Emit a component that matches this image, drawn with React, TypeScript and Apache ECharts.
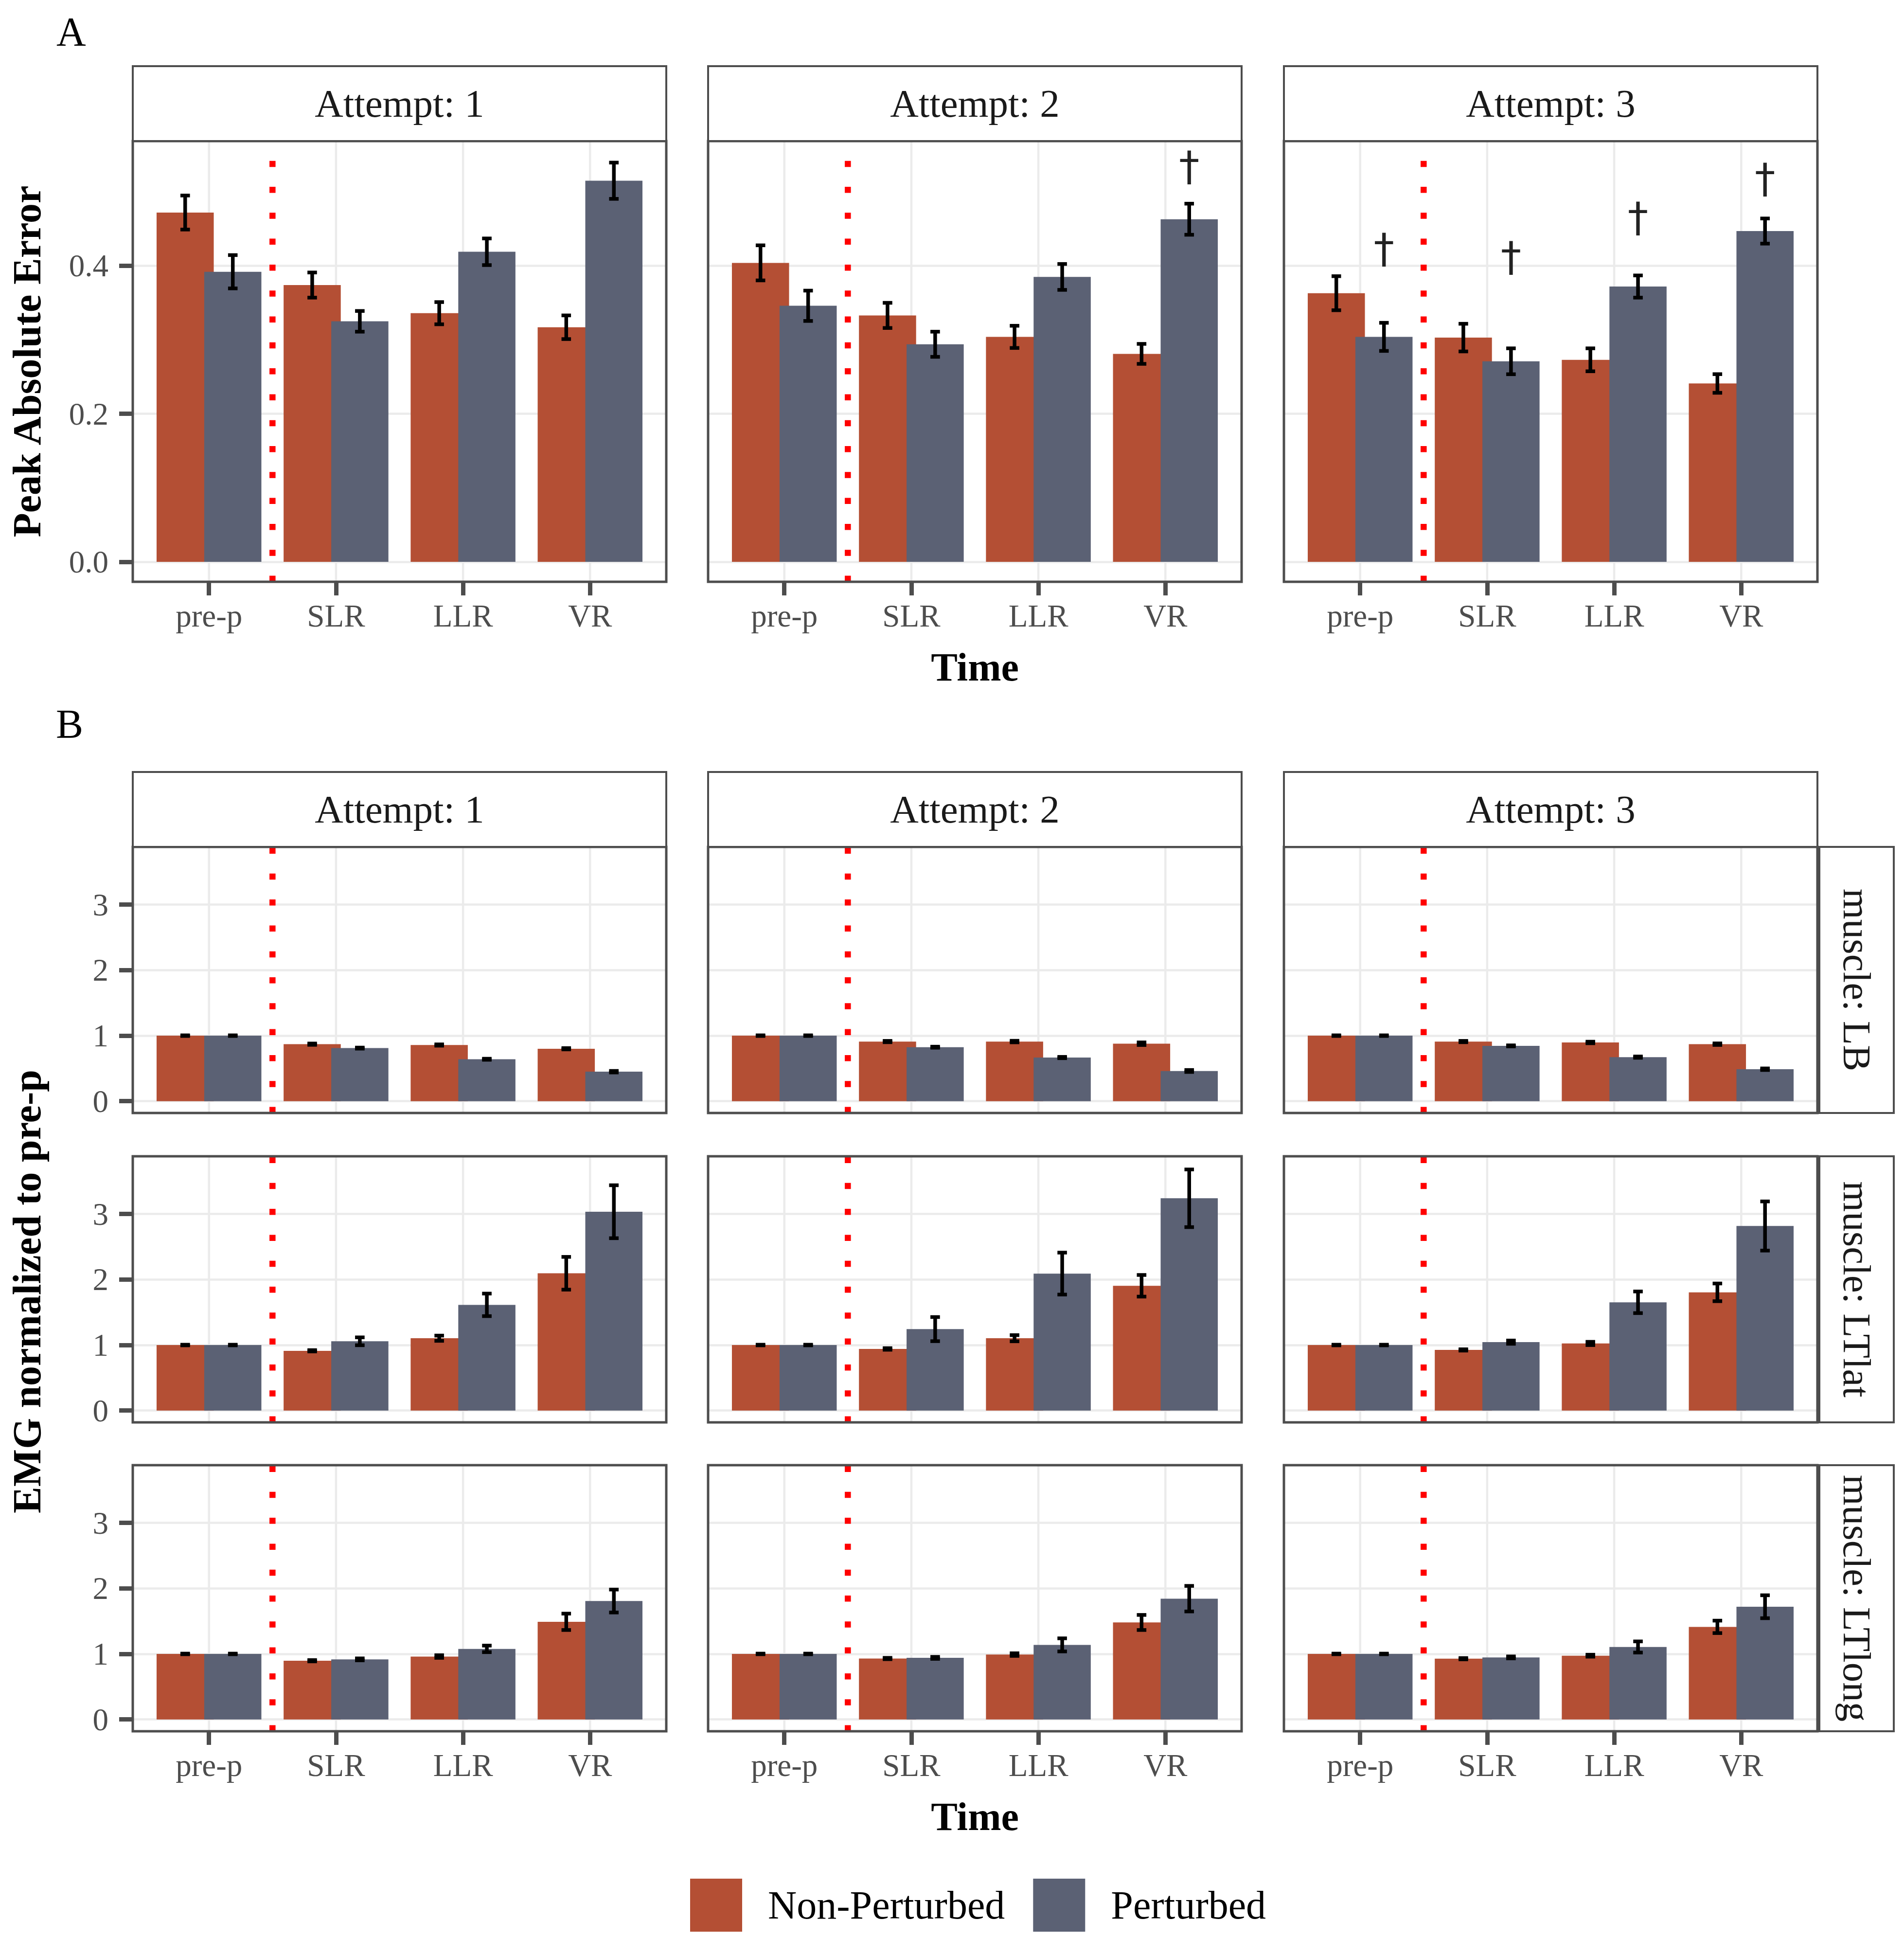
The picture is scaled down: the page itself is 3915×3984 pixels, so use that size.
import React, { useEffect, useRef } from 'react';
import * as echarts from 'echarts';

// ---------------- data ----------------
const CATEGORIES = ['pre-p', 'SLR', 'LLR', 'VR'];
const ATTEMPTS = ['Attempt: 1', 'Attempt: 2', 'Attempt: 3'];
const MUSCLES = ['muscle: LB', 'muscle: LTlat', 'muscle: LTlong'];
const GROUPS = ['Non-Perturbed', 'Perturbed'];

const PAE_TICKS = [0, 0.2, 0.4];
const EMG_TICKS = [0, 1, 2, 3];

// Panel A: Peak Absolute Error  [attempt][time]
const PAE_NP_MEAN = [
  [0.472, 0.374, 0.336, 0.317],
  [0.404, 0.333, 0.304, 0.281],
  [0.363, 0.303, 0.273, 0.241],
];
const PAE_NP_SE = [
  [0.023, 0.017, 0.015, 0.016],
  [0.0237, 0.017, 0.015, 0.0135],
  [0.023, 0.0187, 0.0155, 0.0126],
];
const PAE_P_MEAN = [
  [0.392, 0.325, 0.419, 0.515],
  [0.346, 0.294, 0.385, 0.463],
  [0.304, 0.271, 0.372, 0.447],
];
const PAE_P_SE = [
  [0.0225, 0.014, 0.018, 0.0245],
  [0.0205, 0.017, 0.0175, 0.021],
  [0.019, 0.0175, 0.015, 0.017],
];
// y position of the significance daggers (null = none)
const PAE_DAGGER_Y = [
  [null, null, null, null],
  [null, null, null, 0.529],
  [0.418, 0.407, 0.46, 0.513],
];

// Panel B: EMG normalized to pre-p  [attempt][time]
const LB_NP_MEAN = [
  [1.0, 0.87, 0.857, 0.8],
  [1.0, 0.91, 0.91, 0.877],
  [1.0, 0.91, 0.896, 0.87],
];
const LB_NP_SE = [
  [0.005, 0.01, 0.01, 0.01],
  [0.005, 0.01, 0.012, 0.02],
  [0.005, 0.01, 0.012, 0.012],
];
const LB_P_MEAN = [
  [1.0, 0.81, 0.64, 0.45],
  [1.0, 0.824, 0.666, 0.461],
  [1.0, 0.844, 0.672, 0.488],
];
const LB_P_SE = [
  [0.005, 0.008, 0.008, 0.012],
  [0.005, 0.008, 0.01, 0.015],
  [0.005, 0.008, 0.01, 0.012],
];

const LTLAT_NP_MEAN = [
  [1.0, 0.912, 1.104, 2.095],
  [1.0, 0.94, 1.104, 1.904],
  [1.0, 0.925, 1.024, 1.804],
];
const LTLAT_NP_SE = [
  [0.005, 0.01, 0.04, 0.25],
  [0.005, 0.012, 0.047, 0.165],
  [0.005, 0.01, 0.025, 0.135],
];
const LTLAT_P_MEAN = [
  [1.0, 1.057, 1.613, 3.034],
  [1.0, 1.243, 2.09, 3.239],
  [1.0, 1.044, 1.652, 2.816],
];
const LTLAT_P_SE = [
  [0.005, 0.06, 0.172, 0.404],
  [0.005, 0.184, 0.32, 0.44],
  [0.005, 0.025, 0.165, 0.375],
];

const LTLONG_NP_MEAN = [
  [1.0, 0.896, 0.96, 1.49],
  [1.0, 0.93, 0.99, 1.48],
  [1.0, 0.927, 0.973, 1.413],
];
const LTLONG_NP_SE = [
  [0.005, 0.01, 0.02, 0.125],
  [0.005, 0.01, 0.02, 0.115],
  [0.005, 0.01, 0.015, 0.095],
];
const LTLONG_P_MEAN = [
  [1.0, 0.917, 1.077, 1.807],
  [1.0, 0.94, 1.138, 1.843],
  [1.0, 0.947, 1.106, 1.72],
];
const LTLONG_P_SE = [
  [0.005, 0.015, 0.05, 0.175],
  [0.005, 0.015, 0.1, 0.195],
  [0.005, 0.015, 0.085, 0.175],
];

// ---------------- styling / layout ----------------
const FONT = '"Liberation Serif", "Times New Roman", serif';
const DAGGER_FONT = '"DejaVu Sans", sans-serif';
const NP_COLOR = '#B44F34';
const P_COLOR = '#5B6174';
const FRAME = '#4D4D4D';
const GRIDC = '#EBEBEB';

const W = 3915;
const H = 3984;
const PANEL_X = [273, 1456, 2640];
const PANEL_W = 1097;
const A_STRIP_Y = 136;
const STRIP_H = 154;
const A_PANEL_Y = 290;
const A_PANEL_H = 906;
const B_STRIP_Y = 1587;
const B_ROW_Y = [1741, 2377, 3012];
const B_ROW_H = 547;
const R_STRIP_X = 3741;
const R_STRIP_W = 153;

const PAE_MIN = -0.027;
const PAE_MAX = 0.5686;
const EMG_MIN = -0.18;
const EMG_MAX = 3.88;

const BAR_OFF = 0.1875;

function buildOption() {
  const grids: any[] = [];
  const xAxes: any[] = [];
  const yAxes: any[] = [];
  const series: any[] = [];
  const graphics: any[] = [];

  const errRender = (offset: number) => (params: any, api: any) => {
    const i = api.value(0);
    const m = api.value(1);
    const s = api.value(2);
    const band = api.size([1, 0])[0];
    const x = api.coord([i, m])[0] + offset * band;
    const yHi = api.coord([i, m + s])[1];
    const yLo = api.coord([i, m - s])[1];
    const hw = 0.0375 * band;
    const st = { stroke: '#000000', lineWidth: 7.5 };
    return {
      type: 'group',
      children: [
        { type: 'line', shape: { x1: x, y1: yHi, x2: x, y2: yLo }, style: st },
        { type: 'line', shape: { x1: x - hw, y1: yHi, x2: x + hw, y2: yHi }, style: st },
        { type: 'line', shape: { x1: x - hw, y1: yLo, x2: x + hw, y2: yLo }, style: st },
      ],
    };
  };

  function addPanel(p: any) {
    const { x, y, w, h, yMin, yMax, ticks, showY, showX, fmt, npMean, npSe, pMean, pSe, dagger } = p;
    // outer grid: frame area, y axis, horizontal gridlines
    const oi = grids.length;
    grids.push({ left: x, top: y, width: w, height: h, containLabel: false, outerBoundsMode: 'none' });
    xAxes.push({ type: 'value', gridIndex: oi, show: false, min: 0, max: 1, axisLine: { onZero: false } });
    yAxes.push({
      type: 'value',
      gridIndex: oi,
      min: yMin,
      max: yMax,
      axisLine: { show: false, onZero: false },
      axisTick: { show: showY, length: 28, lineStyle: { color: FRAME, width: 9 }, customValues: ticks },
      axisLabel: {
        show: showY,
        customValues: ticks,
        margin: 50,
        fontSize: 65,
        color: FRAME,
        fontFamily: FONT,
        formatter: fmt,
      },
      splitLine: { show: true, lineStyle: { color: GRIDC, width: 4.5 } },
    });
    // inner grid: discrete axis with ggplot-like 0.6 expansion
    const unit = w / 4.2;
    const ii = grids.length;
    grids.push({ left: x + 0.1 * unit, top: y, width: 4 * unit, height: h, containLabel: false, outerBoundsMode: 'none' });
    xAxes.push({
      type: 'category',
      gridIndex: ii,
      data: CATEGORIES,
      position: 'bottom',
      axisLine: { show: false, onZero: false },
      axisTick: { show: showX, alignWithLabel: true, length: 28, lineStyle: { color: FRAME, width: 9 } },
      axisLabel: { show: showX, margin: 37, fontSize: 65, color: FRAME, fontFamily: FONT },
      splitLine: { show: false },
    });
    yAxes.push({ type: 'value', gridIndex: ii, min: yMin, max: yMax, show: false, axisLine: { onZero: false } });

    series.push({
      type: 'custom',
      xAxisIndex: ii,
      yAxisIndex: ii,
      z: 1,
      silent: true,
      data: CATEGORIES.map((c, i) => [i, 0]),
      renderItem: (params: any, api: any) => {
        const cs = params.coordSys;
        const cx = api.coord([api.value(0), 0])[0];
        return {
          type: 'line',
          shape: { x1: cx, y1: cs.y, x2: cx, y2: cs.y + cs.height },
          style: { stroke: GRIDC, lineWidth: 4.5 },
        };
      },
    });
    series.push({
      type: 'bar',
      name: GROUPS[0],
      xAxisIndex: ii,
      yAxisIndex: ii,
      data: npMean,
      barWidth: '45%',
      barGap: '-16.67%',
      itemStyle: { color: NP_COLOR },
      z: 2,
    });
    series.push({
      type: 'bar',
      name: GROUPS[1],
      xAxisIndex: ii,
      yAxisIndex: ii,
      data: pMean,
      barWidth: '45%',
      barGap: '-16.67%',
      itemStyle: { color: P_COLOR },
      z: 2,
    });
    series.push({
      type: 'custom',
      xAxisIndex: ii,
      yAxisIndex: ii,
      z: 4,
      silent: true,
      data: [[0, 0]],
      renderItem: (params: any, api: any) => {
        const cs = params.coordSys;
        const band = api.size([1, 0])[0];
        const cx = api.coord([0, 0])[0] + band / 2;
        return {
          type: 'line',
          shape: { x1: cx, y1: cs.y + cs.height, x2: cx, y2: cs.y },
          style: { stroke: '#FF0000', lineWidth: 12.5, lineDash: [12.5, 40.8] },
        };
      },
    });
    series.push({
      type: 'custom',
      xAxisIndex: ii,
      yAxisIndex: ii,
      z: 5,
      silent: true,
      data: CATEGORIES.map((c, i) => [i, npMean[i], npSe[i]]),
      renderItem: errRender(-BAR_OFF),
    });
    series.push({
      type: 'custom',
      xAxisIndex: ii,
      yAxisIndex: ii,
      z: 5,
      silent: true,
      data: CATEGORIES.map((c, i) => [i, pMean[i], pSe[i]]),
      renderItem: errRender(BAR_OFF),
    });
    if (dagger) {
      const dd: any[] = [];
      dagger.forEach((v: any, i: number) => {
        if (v !== null) dd.push([i, v]);
      });
      if (dd.length) {
        series.push({
          type: 'custom',
          xAxisIndex: ii,
          yAxisIndex: ii,
          z: 6,
          silent: true,
          data: dd,
          renderItem: (params: any, api: any) => {
            const band = api.size([1, 0])[0];
            const c = api.coord([api.value(0), api.value(1)]);
            return {
              type: 'text',
              x: c[0] + BAR_OFF * band,
              y: c[1] - 8,
              style: {
                text: '\u2020',
                fontSize: 84,
                fontFamily: DAGGER_FONT,
                fill: '#222222',
                align: 'center',
                verticalAlign: 'middle',
              },
            };
          },
        });
      }
    }
    // frame
    graphics.push({
      type: 'rect',
      z: 50,
      silent: true,
      shape: { x, y, width: w, height: h },
      style: { fill: 'none', stroke: FRAME, lineWidth: 5 },
    });
  }

  const stripText = (text: string, cx: number, cy: number, rot = 0) => ({
    type: 'text',
    z: 52,
    silent: true,
    x: cx,
    y: cy,
    rotation: rot,
    style: { text, fontSize: 81, fontFamily: FONT, fill: '#1A1A1A', align: 'center', verticalAlign: 'middle' },
  });
  const stripRect = (x: number, y: number, w: number, h: number) => ({
    type: 'rect',
    z: 51,
    silent: true,
    shape: { x, y, width: w, height: h },
    style: { fill: '#FFFFFF', stroke: FRAME, lineWidth: 4 },
  });

  // ---- Panel A ----
  for (let a = 0; a < 3; a++) {
    addPanel({
      x: PANEL_X[a],
      y: A_PANEL_Y,
      w: PANEL_W,
      h: A_PANEL_H,
      yMin: PAE_MIN,
      yMax: PAE_MAX,
      ticks: PAE_TICKS,
      showY: a === 0,
      showX: true,
      fmt: (v: number) => v.toFixed(1),
      npMean: PAE_NP_MEAN[a],
      npSe: PAE_NP_SE[a],
      pMean: PAE_P_MEAN[a],
      pSe: PAE_P_SE[a],
      dagger: PAE_DAGGER_Y[a],
    });
    graphics.push(stripRect(PANEL_X[a], A_STRIP_Y, PANEL_W, STRIP_H));
    graphics.push(stripText(ATTEMPTS[a], PANEL_X[a] + PANEL_W / 2, A_STRIP_Y + STRIP_H / 2));
  }

  // ---- Panel B ----
  const npMeanRows = [LB_NP_MEAN, LTLAT_NP_MEAN, LTLONG_NP_MEAN];
  const npSeRows = [LB_NP_SE, LTLAT_NP_SE, LTLONG_NP_SE];
  const pMeanRows = [LB_P_MEAN, LTLAT_P_MEAN, LTLONG_P_MEAN];
  const pSeRows = [LB_P_SE, LTLAT_P_SE, LTLONG_P_SE];
  for (let r = 0; r < 3; r++) {
    for (let a = 0; a < 3; a++) {
      addPanel({
        x: PANEL_X[a],
        y: B_ROW_Y[r],
        w: PANEL_W,
        h: B_ROW_H,
        yMin: EMG_MIN,
        yMax: EMG_MAX,
        ticks: EMG_TICKS,
        showY: a === 0,
        showX: r === 2,
        fmt: (v: number) => String(Math.round(v)),
        npMean: npMeanRows[r][a],
        npSe: npSeRows[r][a],
        pMean: pMeanRows[r][a],
        pSe: pSeRows[r][a],
        dagger: null,
      });
    }
    graphics.push(stripRect(R_STRIP_X, B_ROW_Y[r], R_STRIP_W, B_ROW_H));
    graphics.push(stripText(MUSCLES[r], R_STRIP_X + R_STRIP_W / 2, B_ROW_Y[r] + B_ROW_H / 2, -Math.PI / 2));
  }
  for (let a = 0; a < 3; a++) {
    graphics.push(stripRect(PANEL_X[a], B_STRIP_Y, PANEL_W, STRIP_H));
    graphics.push(stripText(ATTEMPTS[a], PANEL_X[a] + PANEL_W / 2, B_STRIP_Y + STRIP_H / 2));
  }

  // ---- titles & tags ----
  const title = (text: string, x: number, y: number, rot = 0, bold = true, size = 82, align = 'center') => ({
    type: 'text',
    z: 52,
    silent: true,
    x,
    y,
    rotation: rot,
    style: {
      text,
      fontSize: size,
      fontFamily: FONT,
      fontWeight: bold ? 'bold' : 'normal',
      fill: '#000000',
      align,
      verticalAlign: 'middle',
    },
  });
  const midX = PANEL_X[1] + PANEL_W / 2;
  graphics.push(title('Time', midX, 1371));
  graphics.push(title('Time', midX, 3734));
  graphics.push(title('Peak Absolute Error', 55, A_PANEL_Y + A_PANEL_H / 2, Math.PI / 2));
  graphics.push(title('EMG normalized to pre-p', 55, 2655, Math.PI / 2));
  graphics.push(title('A', 116, 65, 0, false, 84, 'left'));
  graphics.push(title('B', 115, 1488, 0, false, 84, 'left'));

  return {
    animation: false,
    backgroundColor: '#FFFFFF',
    textStyle: { fontFamily: FONT },
    grid: grids,
    xAxis: xAxes,
    yAxis: yAxes,
    series,
    graphic: { elements: graphics },
    legend: {
      data: GROUPS,
      left: 1414,
      top: 3857,
      orient: 'horizontal',
      icon: 'rect',
      itemWidth: 107,
      itemHeight: 109,
      itemGap: 58,
      selectedMode: false,
      textStyle: { fontSize: 82, color: '#000000', fontFamily: FONT, padding: [0, 0, 0, 48] },
    },
  };
}

export default function App() {
  const ref = useRef<HTMLDivElement>(null);
  useEffect(() => {
    document.body.style.margin = '0';
    if (!ref.current) return;
    const chart = echarts.init(ref.current, undefined, { renderer: 'svg', width: W, height: H });
    chart.setOption(buildOption() as any);
    return () => {
      chart.dispose();
    };
  }, []);
  return <div ref={ref} style={{ width: W, height: H }} />;
}
